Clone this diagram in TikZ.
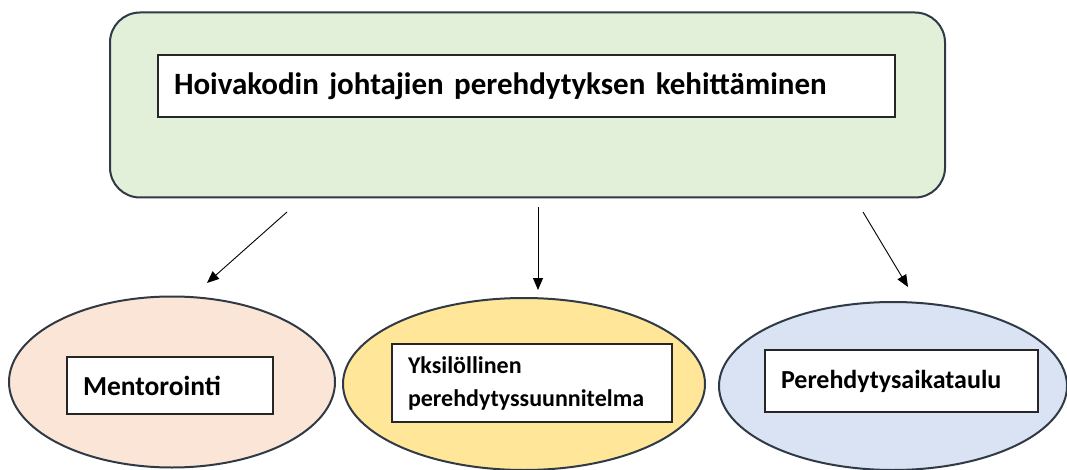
\documentclass[tikz,border=0pt]{standalone}
\usepackage{fontspec}
\setmainfont{Carlito}
\usetikzlibrary{shapes.geometric,arrows.meta}

\definecolor{rimgray}{HTML}{2F3A46}
\definecolor{mintfill}{HTML}{E2F0D9}
\definecolor{peachfill}{HTML}{FBE5D6}
\definecolor{sandfill}{HTML}{FFE699}
\definecolor{skyfill}{HTML}{DAE3F3}

\begin{document}
\begin{tikzpicture}[x=1pt, y=-1pt,
    rim/.style={draw=rimgray, line width=2pt},
    oval/.style={rim, ellipse, inner sep=0pt},
    label/.style={draw=black!85, fill=white, line width=1.2pt, font=\bfseries,
      align=left, inner xsep=16pt, inner ysep=0pt},
    arr/.style={-{Triangle[length=12pt,width=10pt]}, line width=0.9pt}]
    \useasboundingbox (0,0) rectangle (1067,470);

    % Draw main box
    \node[rim, fill=mintfill, rounded corners=30pt,
      minimum width=835pt, minimum height=185pt] (main) at (527.5,105) {};
    \node[label, minimum width=737pt, minimum height=62pt, text width=705pt,
      font=\bfseries\fontsize{31}{36}\selectfont] (title) at (526.5,86)
      {Hoivakodin johtajien perehdytyksen kehittäminen};

    % Draw ovals
    \node[oval, fill=peachfill, minimum width=326pt, minimum height=171pt] (mentor) at (172,382) {};
    \node[oval, fill=sandfill, minimum width=362pt, minimum height=172pt] (plan) at (524,384) {};
    \node[oval, fill=skyfill, minimum width=348pt, minimum height=168pt] (sched) at (893,386) {};

    % Add labels
    \node[label, minimum width=206pt, minimum height=57pt, text width=174pt,
      font=\bfseries\fontsize{27.5}{33}\selectfont] (mentorlbl) at (170,385.5) {Mentorointi};
    \node[label, minimum width=280pt, minimum height=78pt, text width=248pt,
      font=\bfseries\fontsize{24}{33}\selectfont] (planlbl) at (532,383)
      {Yksilöllinen\\perehdytyssuunnitelma};
    \node[label, minimum width=273pt, minimum height=62pt, text width=241pt,
      font=\bfseries\fontsize{26}{31}\selectfont] (schedlbl) at (901.5,381) {Perehdytysaikataulu};

    % Add arrows
    \coordinate (a1) at (287,212);
    \coordinate (b1) at (207,283);
    \coordinate (a2) at (538,207);
    \coordinate (b2) at (538,290);
    \coordinate (a3) at (863,212);
    \coordinate (b3) at (908,287);
    \foreach \i in {1,2,3} {
        \draw[arr] (a\i) -- (b\i);
    }
\end{tikzpicture}
\end{document}
